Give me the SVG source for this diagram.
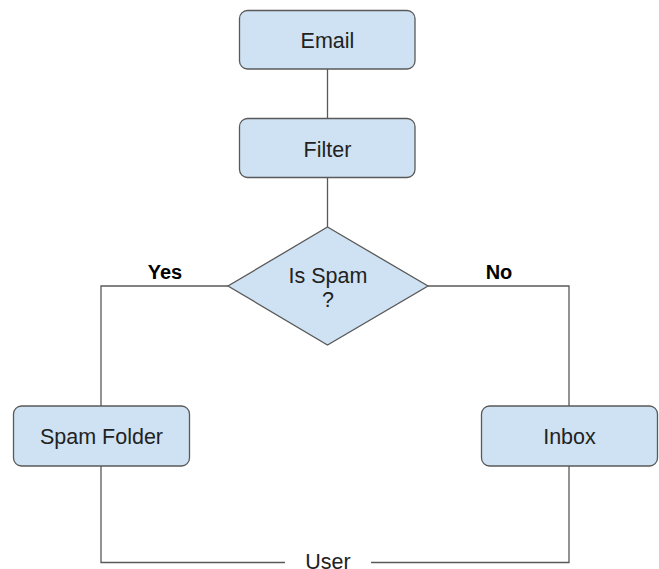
<svg xmlns="http://www.w3.org/2000/svg" width="659" height="569" viewBox="0 0 659 569">
<style>
.box{fill:#cfe2f3;stroke:#595959;stroke-width:1.3}
.ln{fill:none;stroke:#595959;stroke-width:1.3}
.t{font-family:"Liberation Sans",Arial,sans-serif;font-size:21.5px;fill:#222;text-anchor:middle}
.b{font-weight:bold;font-size:20px;fill:#000}
</style>
<rect width="659" height="569" fill="#fff"/>
<g id="connectors">
<line class="ln" x1="327.5" y1="69" x2="327.5" y2="118.5"/>
<line class="ln" x1="327.5" y1="178" x2="327.5" y2="227"/>
<polyline class="ln" points="228,286 101,286 101,406"/>
<polyline class="ln" points="428,286 569,286 569,406"/>
<polyline class="ln" points="101,466 101,562.5 285,562.5"/>
<polyline class="ln" points="569,466 569,562.5 371,562.5"/>
<text class="t b" x="165" y="279">Yes</text>
<text class="t b" x="499" y="279">No</text>
<text class="t" x="328" y="568.5">User</text>
</g>
<g id="email">
<rect class="box" x="239.5" y="10.5" width="175.5" height="58.5" rx="8"/>
<text class="t" x="327.5" y="47.5">Email</text>
</g>
<g id="filter">
<rect class="box" x="239.5" y="118.5" width="175.5" height="59" rx="8"/>
<text class="t" x="327.5" y="156.5">Filter</text>
</g>
<g id="isspam">
<polygon class="box" points="327.5,227 428,286 327.5,345 228,286"/>
<text class="t" x="328" y="283">Is Spam</text>
<text class="t" x="328" y="306.5">?</text>
</g>
<g id="spamfolder">
<rect class="box" x="13.5" y="406" width="176" height="60" rx="8"/>
<text class="t" x="101.5" y="444">Spam Folder</text>
</g>
<g id="inbox">
<rect class="box" x="481.5" y="406" width="176" height="60" rx="8"/>
<text class="t" x="569.5" y="444">Inbox</text>
</g>
</svg>
